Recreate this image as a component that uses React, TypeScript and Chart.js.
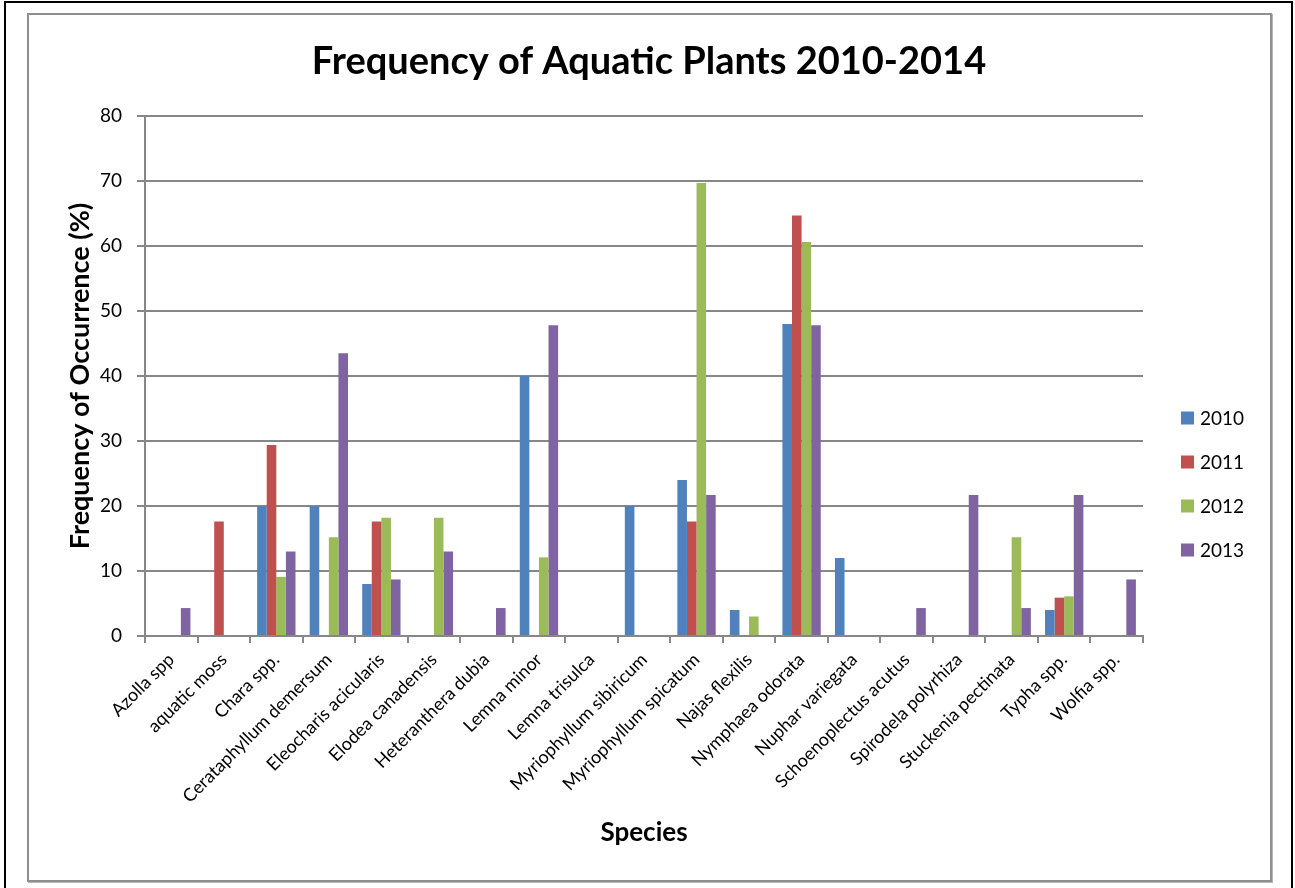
import React, { useEffect, useRef } from "react";
import { Chart, registerables } from "chart.js";

Chart.register(...registerables);

const categories = [
  "Azolla spp",
  "aquatic moss",
  "Chara spp.",
  "Cerataphyllum demersum",
  "Eleocharis acicularis",
  "Elodea canadensis",
  "Heteranthera dubia",
  "Lemna minor",
  "Lemna trisulca",
  "Myriophyllum sibiricum",
  "Myriophyllum spicatum",
  "Najas flexilis",
  "Nymphaea odorata",
  "Nuphar variegata",
  "Schoenoplectus acutus",
  "Spirodela polyrhiza",
  "Stuckenia pectinata",
  "Typha spp.",
  "Wolfia spp.",
];

const seriesLabels = ["2010", "2011", "2012", "2013"];
const values2010 = [0, 0, 20, 20, 8, 0, 0, 40, 0, 20, 24, 4, 48, 12, 0, 0, 0, 4, 0];
const values2011 = [0, 17.6, 29.4, 0, 17.6, 0, 0, 0, 0, 0, 17.6, 0, 64.7, 0, 0, 0, 0, 5.9, 0];
const values2012 = [0, 0, 9.1, 15.2, 18.2, 18.2, 0, 12.1, 0, 0, 69.7, 3.0, 60.6, 0, 0, 0, 15.2, 6.1, 0];
const values2013 = [4.3, 0, 13.0, 43.5, 8.7, 13.0, 4.3, 47.8, 0, 0, 21.7, 0, 47.8, 0, 4.3, 21.7, 4.3, 21.7, 8.7];
const seriesColors = ["#4F81BD", "#C0504D", "#9BBB59", "#8064A2"];
const yTicks = [0, 10, 20, 30, 40, 50, 60, 70, 80];

const titleText = "Frequency of Aquatic Plants 2010-2014";
const yTitle = "Frequency of Occurrence (%)";
const xTitle = "Species";

const FONT = "Lato";
const GRID = "#878787";

const sideLegend = {
  id: "sideLegend",
  afterDraw(chart: any) {
    const ctx = chart.ctx;
    const { right, top } = chart.chartArea;
    ctx.save();
    chart.data.datasets.forEach((ds: any, i: number) => {
      const cy = top + 302 + i * 44;
      ctx.fillStyle = ds.backgroundColor;
      ctx.fillRect(right + 38, cy - 6.5, 13, 13);
      ctx.fillStyle = "#000";
      ctx.font = `19px ${FONT}`;
      ctx.textBaseline = "middle";
      ctx.textAlign = "left";
      ctx.fillText(ds.label, right + 57, cy + 1);
    });
    ctx.restore();
  },
};

export default function App() {
  const canvasRef = useRef<HTMLCanvasElement | null>(null);

  useEffect(() => {
    const canvas = canvasRef.current;
    if (!canvas) return;
    const allValues = [values2010, values2011, values2012, values2013];
    const chart = new Chart(canvas, {
      type: "bar",
      data: {
        labels: categories,
        datasets: seriesLabels.map((label, i) => ({
          label,
          data: allValues[i],
          backgroundColor: seriesColors[i],
          borderWidth: 0,
          categoryPercentage: 0.73,
          barPercentage: 1.0,
        })),
      },
      options: {
        animation: false,
        responsive: false,
        devicePixelRatio: 1,
        layout: { padding: { left: 0, right: 0, top: 0, bottom: 25.5 } },
        plugins: {
          legend: { display: false },
          tooltip: { enabled: false },
          title: {
            display: true,
            text: titleText,
            color: "#000",
            font: { family: FONT, size: 38, weight: "bold" },
            padding: { top: 23.2, bottom: 31.2 },
          },
        },
        scales: {
          x: {
            type: "category",
            offset: true,
            grid: {
              display: true,
              offset: true,
              drawOnChartArea: false,
              drawTicks: true,
              tickLength: 7,
              color: GRID,
              lineWidth: 2,
            },
            border: { display: true, color: GRID, width: 2 },
            ticks: {
              autoSkip: false,
              maxRotation: 45,
              minRotation: 45,
              padding: 6,
              color: "#000",
              font: { family: FONT, size: 18 },
            },
            title: {
              display: true,
              text: xTitle,
              color: "#000",
              font: { family: FONT, size: 26, weight: "bold" },
              padding: { top: 4, bottom: 4 },
            },
            afterFit(scale: any) {
              scale.height = 216.5;
            },
          },
          y: {
            type: "linear",
            min: 0,
            max: 80,
            afterBuildTicks(scale: any) {
              scale.ticks = yTicks.map((v) => ({ value: v }));
            },
            grid: {
              color: GRID,
              lineWidth: 2,
              drawTicks: true,
              tickLength: 8,
            },
            border: { display: true, color: GRID, width: 2 },
            ticks: {
              padding: 15,
              color: "#000",
              font: { family: FONT, size: 19 },
            },
            title: {
              display: true,
              text: yTitle,
              color: "#000",
              font: { family: FONT, size: 27, weight: "bold" },
              padding: { top: 33.8, bottom: 4 },
            },
            afterFit(scale: any) {
              scale.width = 115;
            },
          },
          legendSpace: {
            type: "linear",
            position: "right",
            display: true,
            grid: { display: false, drawTicks: false },
            border: { display: false },
            ticks: { display: false },
            afterFit(scale: any) {
              scale.width = 125;
            },
          },
        },
      } as any,
      plugins: [sideLegend],
    });
    return () => chart.destroy();
  }, []);

  return (
    <div
      style={{
        position: "absolute",
        left: 0,
        top: 0,
        width: 1295,
        height: 888,
        background: "#fff",
        overflow: "hidden",
      }}
    >
      <div style={{ position: "absolute", left: 4, top: 1, width: 2, height: 887, background: "#000" }} />
      <div style={{ position: "absolute", left: 4, top: 1, width: 1289, height: 2, background: "#000" }} />
      <div style={{ position: "absolute", left: 1291, top: 1, width: 2, height: 887, background: "#000" }} />
      <div
        style={{
          position: "absolute",
          left: 27,
          top: 13,
          width: 1241,
          height: 865,
          border: "2px solid #8f8f8f",
          boxShadow: "1px 1px 0 #b5b5b5",
        }}
      />
      <canvas
        ref={canvasRef}
        width={1238}
        height={862}
        style={{ position: "absolute", left: 30, top: 16, width: 1238, height: 862 }}
      />
    </div>
  );
}
